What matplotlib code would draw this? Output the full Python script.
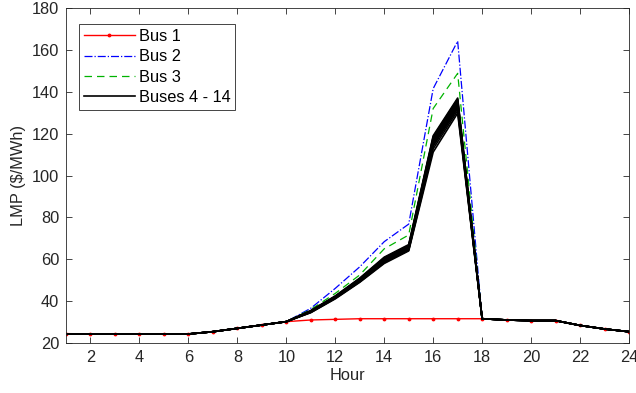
import matplotlib
matplotlib.use('Agg')
import matplotlib.pyplot as plt

plt.rcParams['font.family'] = ['Liberation Sans', 'DejaVu Sans']

hours = list(range(1, 25))

bus1 = [24.5, 24.3, 24.3, 24.3, 24.3, 24.3, 25.4, 27.0, 28.6, 30.2,
        31.0, 31.3, 31.6, 31.6, 31.6, 31.6, 31.6, 31.6,
        31.0, 30.7, 30.7, 28.4, 26.7, 25.4]
bus2 = [24.3, 24.3, 24.3, 24.3, 24.3, 24.3, 25.4, 27.0, 28.6, 30.2,
        36.6, 46.1, 56.4, 68.4, 76.8, 141.5, 164.2, 31.6,
        31.0, 30.7, 30.7, 28.4, 26.7, 25.4]
bus3 = [24.3, 24.3, 24.3, 24.3, 24.3, 24.3, 25.4, 27.0, 28.6, 30.2,
        36.0, 43.7, 52.5, 65.0, 71.6, 132.0, 148.8, 31.6,
        31.0, 30.7, 30.7, 28.4, 26.7, 25.4]

# buses 4 - 14 share the off-peak hours, differ in hours 11 - 17
offpeak_am = [24.3, 24.3, 24.3, 24.3, 24.3, 24.3, 25.4, 27.0, 28.6, 30.2]
offpeak_pm = [31.6, 31.0, 30.7, 30.7, 28.4, 26.7, 25.4]
peak_4_14 = [
    [35.5, 42.5, 51.0, 61.0, 67.0, 119.0, 137.0],
    [35.4, 42.3, 50.8, 60.7, 66.7, 118.5, 136.5],
    [35.3, 42.2, 50.6, 60.4, 66.4, 118.0, 136.0],
    [35.2, 42.1, 50.4, 60.1, 66.1, 117.3, 135.3],
    [35.1, 42.0, 50.2, 59.8, 65.8, 116.6, 134.7],
    [35.0, 41.9, 50.0, 59.5, 65.5, 116.0, 134.0],
    [34.9, 41.8, 49.8, 59.2, 65.2, 115.3, 133.3],
    [34.8, 41.6, 49.6, 58.9, 64.9, 114.6, 132.6],
    [34.7, 41.5, 49.4, 58.6, 64.6, 114.0, 132.0],
    [34.6, 41.3, 49.2, 58.3, 64.3, 112.8, 131.0],
    [34.5, 41.1, 49.0, 58.0, 64.0, 111.2, 129.8],
]

fs = 11.8

fig = plt.figure(figsize=(6.36, 3.93), dpi=100)
ax = fig.add_axes([0.1038, 0.1272, 0.8852, 0.8524])

ax.plot(hours, bus1, color='red', lw=1, marker='.', markersize=3.5, label='Bus 1')
ax.plot(hours, bus2, color='blue', lw=0.9, ls='-.', label='Bus 2')
ax.plot(hours, bus3, color=(0.0, 0.7, 0.0), lw=0.9, ls=(0, (6, 4)), label='Bus 3')
for i, pk in enumerate(peak_4_14):
    ax.plot(hours, offpeak_am + pk + offpeak_pm, color='black', lw=1.2,
            label='Buses 4 - 14' if i == 0 else None)

ax.set_xlim(1, 24)
ax.set_ylim(20, 180)
ax.set_xticks(range(2, 25, 2))
ax.set_yticks(range(20, 181, 20))
ax.set_xlabel('Hour', fontsize=fs, color='0.15', labelpad=2)
ax.set_ylabel('LMP ($/MWh)', fontsize=fs, color='0.15', labelpad=4)
ax.tick_params(direction='in', top=True, right=True, length=4, width=0.6,
               labelsize=fs, colors='0.15', pad=5)
for s in ax.spines.values():
    s.set_color('0.15')
    s.set_linewidth(0.6)

leg = ax.legend(loc='upper left', fontsize=fs, fancybox=False, framealpha=1,
                edgecolor='0.15', handlelength=3.1, handletextpad=0.25,
                borderpad=0.3, labelspacing=0.32, borderaxespad=0.0,
                numpoints=1, bbox_to_anchor=(0.023, 0.952))
leg.get_frame().set_linewidth(0.6)

fig.savefig('out.png', dpi=100)
